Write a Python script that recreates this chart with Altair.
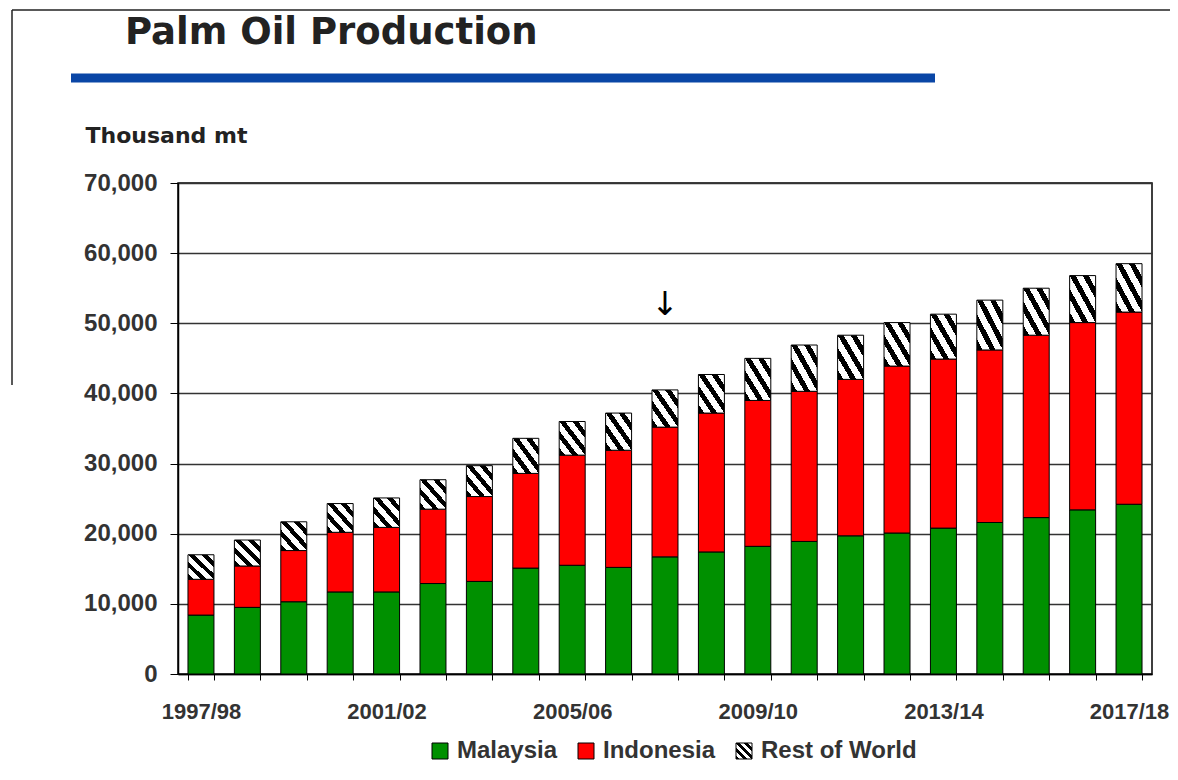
import altair as alt
import pandas as pd

# ---------------- data ----------------
seasons = ["1997/98", "1998/99", "1999/00", "2000/01", "2001/02", "2002/03", "2003/04",
           "2004/05", "2005/06", "2006/07", "2007/08", "2008/09", "2009/10", "2010/11",
           "2011/12", "2012/13", "2013/14", "2014/15", "2015/16", "2016/17", "2017/18"]
malaysia = [8400, 9500, 10300, 11700, 11700, 12900, 13200, 15100, 15500, 15200, 16700,
            17400, 18200, 18900, 19700, 20100, 20800, 21600, 22300, 23400, 24200]
indonesia = [5100, 5900, 7300, 8500, 9200, 10600, 12100, 13500, 15700, 16700, 18500,
             19800, 20800, 21400, 22300, 23800, 24100, 24600, 26000, 26700, 27400]
rest_of_world = [3500, 3700, 4100, 4100, 4200, 4200, 4400, 5000, 4800, 5300, 5300,
                 5500, 6000, 6600, 6300, 6200, 6400, 7100, 6700, 6700, 6900]
countries = ["Malaysia", "Indonesia", "Rest of World"]
y_ticks = [0, 10000, 20000, 30000, 40000, 50000, 60000, 70000]
x_labels_shown = ["1997/98", "2001/02", "2005/06", "2009/10", "2013/14", "2017/18"]
title_text = "Palm Oil Production"
y_unit = "Thousand mt"
arrow_season = ["2007/08"]
arrow_text = ["\u2193"]

# ---------------- tables ----------------
rows = []
for i, s in enumerate(seasons):
    for k, vals in enumerate([malaysia, indonesia, rest_of_world]):
        rows.append({"season": s, "country": countries[k], "value": vals[i], "ord": k})
df = pd.DataFrame(rows)
arrow_df = pd.DataFrame({"season": arrow_season, "label": arrow_text})
one = pd.DataFrame({"d": [0]})

# ---------------- hatch fill as a hard-stop linear gradient ----------------
n_periods = 4
stop_parts = []
for k in range(n_periods):
    a = k / n_periods
    b = (k + 0.45) / n_periods
    c = (k + 1) / n_periods
    for off, col in [(a, "#000000"), (b, "#000000"), (b, "#ffffff"), (c, "#ffffff")]:
        stop_parts.append("{offset: %.4f, color: '%s'}" % (off, col))
hatch_expr = ("{gradient: 'linear', x1: 0, y1: 1, x2: 1, y2: 0, stops: ["
              + ", ".join(stop_parts) + "]}")

LBL_FONT = "Liberation Sans"
HEAD_FONT = "DejaVu Sans"

x_enc = alt.X(
    "season:N",
    title=None,
    scale=alt.Scale(domain=seasons, paddingInner=0.44, paddingOuter=0.215),
    axis=alt.Axis(
        labelAngle=0,
        labelExpr="indexof(" + str(x_labels_shown) + ", datum.label) >= 0 ? datum.label : ''",
        tickBand="extent",
        tickSize=6,
        tickColor="#000000",
        domainColor="#000000",
        domainWidth=1.5,
        labelPadding=21,
        labelFont=LBL_FONT,
        labelFontSize=22,
        labelFontWeight="bold",
        labelColor="#333333",
        labelOverlap=False,
        grid=False,
    ),
)

bars = alt.Chart(df).mark_bar(stroke="#000000", strokeWidth=1).encode(
    x=x_enc,
    y=alt.Y(
        "value:Q",
        stack="zero",
        scale=alt.Scale(domain=[0, 70000], nice=False),
        axis=alt.Axis(
            values=y_ticks,
            format=",d",
            title=y_unit,
            titleAngle=0,
            titleAlign="left",
            titleBaseline="alphabetic",
            titleX=-93,
            titleY=-41,
            titleFont=HEAD_FONT,
            titleFontSize=22,
            titleFontWeight="bold",
            titleColor="#222222",
            tickSize=8,
            tickColor="#000000",
            domainColor="#000000",
            domainWidth=1.5,
            labelPadding=13,
            labelFont=LBL_FONT,
            labelFontSize=24,
            labelFontWeight="bold",
            labelColor="#333333",
            grid=True,
            gridColor="#333333",
            gridWidth=1.3,
        ),
    ),
    color=alt.Color(
        "country:N",
        scale=alt.Scale(domain=countries,
                        range=["#009000", "#ff0000", alt.ExprRef(hatch_expr)]),
        legend=alt.Legend(
            title=None,
            orient="none",
            legendX=250,
            legendY=556,
            direction="horizontal",
            symbolType="square",
            symbolSize=256,
            symbolStrokeColor="#000000",
            symbolStrokeWidth=1,
            symbolOpacity=1,
            labelFont=LBL_FONT,
            labelFontSize=24,
            labelFontWeight="bold",
            labelColor="#333333",
            labelOffset=5,
            columnPadding=16,
        ),
    ),
    order=alt.Order("ord:Q"),
)

arrow = alt.Chart(arrow_df).mark_text(
    font=HEAD_FONT, fontSize=33, color="#000000", baseline="middle", align="center"
).encode(x=x_enc, y=alt.value(122), text="label:N")

title_mark = alt.Chart(one).mark_text(
    font=HEAD_FONT, fontSize=37, fontWeight="bold", color="#222222",
    align="left", baseline="alphabetic"
).encode(x=alt.value(-53), y=alt.value(-139), text=alt.value(title_text))

blue_bar = alt.Chart(one).mark_rule(color="#0a46a6", strokeWidth=9, strokeCap="butt").encode(
    x=alt.value(-107), x2=alt.value(757), y=alt.value(-105)
)
frame_top = alt.Chart(one).mark_rule(color="#222222", strokeWidth=1.5).encode(
    x=alt.value(-166), x2=alt.value(1000), y=alt.value(-173)
)
frame_left = alt.Chart(one).mark_rule(color="#222222", strokeWidth=1.5).encode(
    x=alt.value(-166), y=alt.value(-173), y2=alt.value(202)
)

chart = alt.layer(bars, arrow, title_mark, blue_bar, frame_top, frame_left).properties(
    width=974,
    height=491,
    autosize=alt.AutoSizeParams(type="none"),
    padding={"left": 170, "top": 175, "right": 18, "bottom": 94},
    background="#ffffff",
).configure_view(stroke="#000000", strokeWidth=1.5)

chart.save("out.html", embed_options={"renderer": "svg", "actions": False})
